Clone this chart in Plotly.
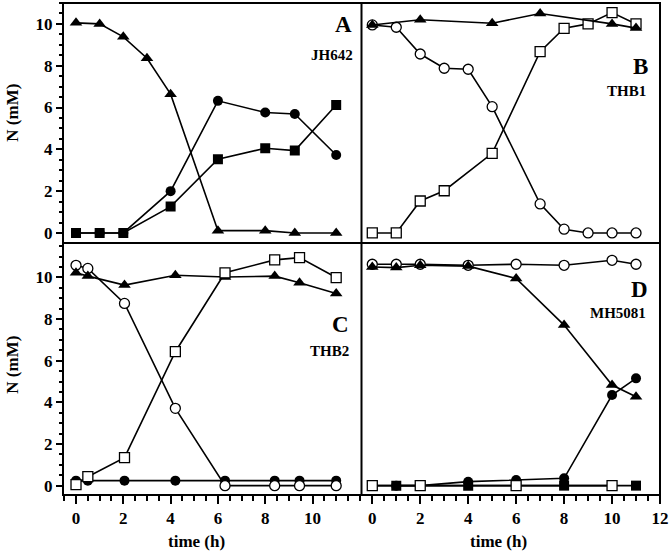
import plotly.graph_objects as go

# ---------------- data ----------------
# Panel A  (JH642)
A_time = [0, 1, 2, 3, 4, 6, 8, 9.25, 11]
A_tri = [10.05, 10.0, 9.38, 8.36, 6.64, 0.11, 0.11, 0.0, 0.0]
A_time2 = [0, 1, 2, 4, 6, 8, 9.25, 11]
A_fcirc = [0, 0, 0, 2.0, 6.32, 5.76, 5.69, 3.73]
A_fsq = [0, 0, 0, 1.26, 3.53, 4.05, 3.94, 6.12]

# Panel B  (THB1)
B_tri_time = [0, 2, 5, 7, 10, 11]
B_tri = [9.95, 10.2, 10.03, 10.5, 10.0, 9.8]
B_circ_time = [0, 1, 2, 3, 4, 5, 7, 8, 9, 10, 11]
B_ocirc = [9.95, 9.84, 8.56, 7.88, 7.83, 6.04, 1.39, 0.18, 0, 0, 0]
B_sq_time = [0, 1, 2, 3, 5, 7, 8, 9, 10, 11]
B_osq = [0, 0, 1.53, 2.02, 3.81, 8.67, 9.79, 10.0, 10.54, 10.0]

# Panel C  (THB2)
C_time = [0, 0.5, 2.05, 4.2, 6.3, 8.4, 9.45, 11]
C_ocirc = [10.58, 10.43, 8.75, 3.71, 0, 0, 0, 0]
C_tri = [10.22, 10.06, 9.63, 10.1, 10.02, 10.06, 9.74, 9.23]
C_osq = [0.05, 0.43, 1.34, 6.43, 10.22, 10.84, 10.95, 9.99]
C_fcirc = [0.24, 0.24, 0.24, 0.24, 0.24, 0.24, 0.24, 0.24]

# Panel D  (MH5081)
D_time = [0, 1, 2, 4, 6, 8, 10, 11]
D_ocirc = [10.63, 10.63, 10.63, 10.58, 10.63, 10.58, 10.82, 10.63]
D_tri = [10.5, 10.47, 10.58, 10.54, 9.95, 7.71, 4.83, 4.27]
D_fcirc = [0, 0, 0, 0.19, 0.27, 0.35, 4.35, 5.15]
D_osq_time = [0, 2, 6, 10]
D_osq = [0, 0, 0, 0]
D_fsq_time = [1, 4, 8, 11]
D_fsq = [0, 0, 0, 0]

panel_letters = ["A", "B", "C", "D"]
strain_names = ["JH642", "THB1", "THB2", "MH5081"]
x_tick_vals_left = [0, 2, 4, 6, 8, 10]
x_tick_vals_right = [0, 2, 4, 6, 8, 10, 12]
y_tick_vals = [0, 2, 4, 6, 8, 10]

# ---------------- style ----------------
FONT = "Liberation Serif"
LW = 1.6

def marker(kind):
    if kind == "tri":
        return dict(symbol="triangle-up", size=11, color="black", line=dict(width=0))
    if kind == "fcirc":
        return dict(symbol="circle", size=10, color="black", line=dict(width=0))
    if kind == "ocirc":
        return dict(symbol="circle", size=10, color="white", line=dict(width=1.3, color="black"))
    if kind == "fsq":
        return dict(symbol="square", size=10, color="black", line=dict(width=0))
    if kind == "osq":
        return dict(symbol="square", size=10, color="white", line=dict(width=1.3, color="black"))

fig = go.Figure()

def add(x, y, kind, ax):
    fig.add_trace(go.Scatter(
        x=x, y=y, mode="lines+markers",
        line=dict(color="black", width=LW),
        marker=marker(kind),
        xaxis="x" + ax, yaxis="y" + ax,
        showlegend=False, hoverinfo="x+y",
    ))

# A -> axes '' (x,y)
add(A_time, A_tri, "tri", "")
add(A_time2, A_fcirc, "fcirc", "")
add(A_time2, A_fsq, "fsq", "")
# B -> axes 2
add(B_circ_time, B_ocirc, "ocirc", "2")
add(B_sq_time, B_osq, "osq", "2")
add(B_tri_time, B_tri, "tri", "2")
# C -> axes 3
add(C_time, C_fcirc, "fcirc", "3")
add(C_time, C_ocirc, "ocirc", "3")
add(C_time, C_tri, "tri", "3")
add(C_time, C_osq, "osq", "3")
# D -> axes 4
add(D_time, D_ocirc, "ocirc", "4")
add(D_time, D_tri, "tri", "4")
add(D_time, D_fcirc, "fcirc", "4")
add(D_fsq_time, D_fsq, "fsq", "4")
add(D_osq_time, D_osq, "osq", "4")

# ---------------- layout ----------------
W, H = 672, 553
ML, MR, MT, MB = 63, 10, 3, 58
PW, PH = W - ML - MR, H - MT - MB
xsplit = (362.5 - ML) / PW
ysplit = (495 - 243) / PH

tickfont = dict(family=FONT, size=17, color="black", weight="bold")

def xax(domain, rng, anchor, tickvals):
    d = dict(domain=domain, range=rng, anchor=anchor, showgrid=False, zeroline=False,
             showline=False, fixedrange=True)
    if tickvals:
        d.update(tickvals=tickvals, ticks="outside", ticklen=8, tickwidth=1.5,
                 tickcolor="black", tickfont=tickfont,
                 minor=dict(dtick=0.5, tick0=0, ticks="outside", ticklen=5,
                            tickwidth=1.5, tickcolor="black"))
    else:
        d.update(showticklabels=False, ticks="")
    return d

def yax(domain, rng, anchor, show):
    d = dict(domain=domain, range=rng, anchor=anchor, showgrid=False, zeroline=False,
             showline=False, fixedrange=True)
    if show:
        d.update(tickvals=y_tick_vals, ticks="outside", ticklen=6, tickwidth=1.5,
                 tickcolor="black", tickfont=tickfont,
                 minor=dict(dtick=0.5, tick0=0, ticks="outside", ticklen=3,
                            tickwidth=1.5, tickcolor="black"))
    else:
        d.update(showticklabels=False, ticks="")
    return d

XL = [-0.55, 12.07]
XR = [-0.45, 12.0]
YT = [-0.48, 11.0]
YB = [-0.45, 11.65]

fig.update_layout(
    width=W, height=H,
    margin=dict(l=ML, r=MR, t=MT, b=MB),
    paper_bgcolor="white", plot_bgcolor="white",
    xaxis=xax([0, xsplit], XL, "y", None),
    yaxis=yax([ysplit, 1], YT, "x", True),
    xaxis2=xax([xsplit, 1], XR, "y2", None),
    yaxis2=yax([ysplit, 1], YT, "x2", False),
    xaxis3=xax([0, xsplit], XL, "y3", x_tick_vals_left),
    yaxis3=yax([0, ysplit], YB, "x3", True),
    xaxis4=xax([xsplit, 1], XR, "y4", x_tick_vals_right),
    yaxis4=yax([0, ysplit], YB, "x4", False),
)

# frame and dividers
line = dict(color="black", width=2)
fig.add_shape(type="rect", xref="paper", yref="paper", x0=0, x1=1, y0=0, y1=1, line=line)
fig.add_shape(type="line", xref="paper", yref="paper", x0=xsplit, x1=xsplit, y0=0, y1=1, line=line)
fig.add_shape(type="line", xref="paper", yref="paper", x0=0, x1=1, y0=ysplit, y1=ysplit, line=line)

def px(x):
    return (x - ML) / PW

def py(y):
    return (MT + PH - y) / PH

letter_pos = [(344.5, 25), (642, 66), (341, 324.5), (641, 289.5)]
strain_pos = [(333, 55), (628, 91), (330, 351.5), (619.5, 313)]
for t, (x, y) in zip(panel_letters, letter_pos):
    fig.add_annotation(text=t, xref="paper", yref="paper", x=px(x), y=py(y),
                       xanchor="center", yanchor="middle", showarrow=False,
                       font=dict(family=FONT, size=23, color="black", weight="bold"))
for t, (x, y) in zip(strain_names, strain_pos):
    fig.add_annotation(text=t, xref="paper", yref="paper", x=px(x), y=py(y),
                       xanchor="center", yanchor="middle", showarrow=False,
                       font=dict(family=FONT, size=15, color="black", weight="bold"))

for y in (112.5, 364.5):
    fig.add_annotation(text="N (mM)", xref="paper", yref="paper", x=px(12), y=py(y),
                       xanchor="center", yanchor="middle", showarrow=False, textangle=-90,
                       font=dict(family=FONT, size=17, color="black", weight="bold"))
for x in (196.5, 500):
    fig.add_annotation(text="time (h)", xref="paper", yref="paper", x=px(x), y=py(541.5),
                       xanchor="center", yanchor="middle", showarrow=False,
                       font=dict(family=FONT, size=17, color="black", weight="bold"))

fig.write_html("out.html", config={"displayModeBar": False},
               post_script="document.body.style.margin='0';document.body.style.padding='0';")
